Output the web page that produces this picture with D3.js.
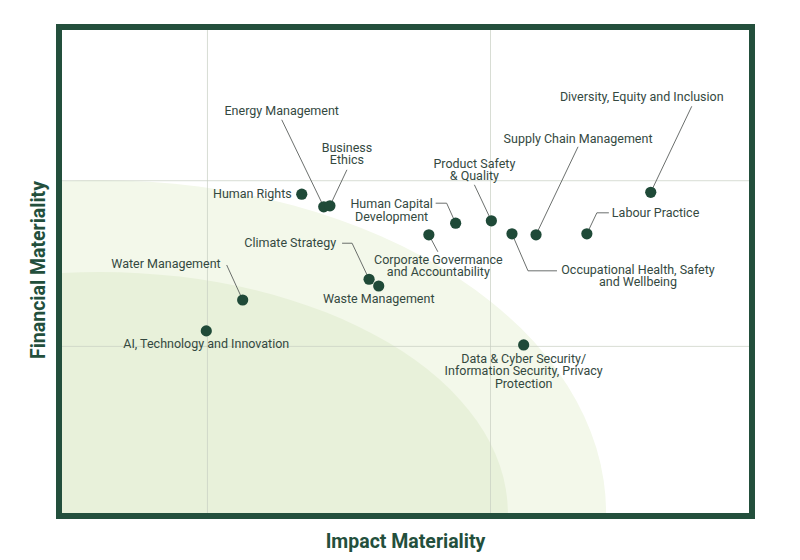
<!DOCTYPE html>
<html>
<head>
<meta charset="utf-8">
<script src="https://cdn.jsdelivr.net/npm/d3@7"></script>
<style>
  html, body { margin: 0; padding: 0; background: #fff; }
  svg { display: block; font-family: Roboto, "Noto Sans", sans-serif; }
</style>
</head>
<body>
<svg id="chart" width="800" height="560"></svg>
<script>
// ---- data ----
const topics = [
  "Human Rights", "Energy Management", "Business Ethics", "Human Capital Development",
  "Product Safety & Quality", "Corporate Govermance and Accountability",
  "Occupational Health, Safety and Wellbeing", "Supply Chain Management", "Labour Practice",
  "Diversity, Equity and Inclusion", "Climate Strategy", "Waste Management",
  "Water Management", "AI, Technology and Innovation",
  "Data & Cyber Security/ Information Security, Privacy Protection"
];
const impactValues    = [3.49, 3.81, 3.90, 5.73, 6.25, 5.34, 6.55, 6.90, 7.64, 8.57, 4.47, 4.61, 2.63, 2.10, 6.72];
const financialValues = [6.60, 6.34, 6.36, 6.00, 6.05, 5.76, 5.78, 5.76, 5.78, 6.64, 4.84, 4.70, 4.41, 3.77, 3.48];
const labelLines = [
  ["Human Rights"], ["Energy Management"], ["Business", "Ethics"], ["Human Capital", "Development"],
  ["Product Safety", "& Quality"], ["Corporate Govermance", "and Accountability"],
  ["Occupational Health, Safety", "and Wellbeing"], ["Supply Chain Management"], ["Labour Practice"],
  ["Diversity, Equity and Inclusion"], ["Climate Strategy"], ["Waste Management"],
  ["Water Management"], ["AI, Technology and Innovation"],
  ["Data & Cyber Security/", "Information Security, Privacy", "Protection"]
];
const xGridValues = [2.11, 6.23];
const yGridValues = [3.46, 6.89];
const xTitle = "Impact Materiality";
const yTitle = "Financial Materiality";

// ---- layout (pixel offsets of labels / leader lines relative to each dot) ----
const labelLayout = [
  { anchor: "end",    dx: -10,  dy: 4,    leader: [] },
  { anchor: "middle", dx: -42,  dy: -92,  leader: [[-42, -87]] },
  { anchor: "middle", dx: 17,   dy: -54,  leader: [[17, -36]] },
  { anchor: "middle", dx: -64,  dy: -15,  leader: [[-20, -20], [-9, -20]] },
  { anchor: "middle", dx: -17,  dy: -53,  leader: [[-17, -36]] },
  { anchor: "middle", dx: 9.5,  dy: 29,   leader: [[9, 17]] },
  { anchor: "middle", dx: 126,  dy: 40,   leader: [[45, 37], [16, 37]] },
  { anchor: "middle", dx: 42,   dy: -92,  leader: [[42, -88]] },
  { anchor: "start",  dx: 25,   dy: -17,  leader: [[22, -21], [10, -21]] },
  { anchor: "middle", dx: -9,   dy: -91.5,leader: [[41, -86]] },
  { anchor: "end",    dx: -33,  dy: -32,  leader: [[-27, -36], [-17, -36]] },
  { anchor: "middle", dx: 0,    dy: 17,   leader: [] },
  { anchor: "end",    dx: -22,  dy: -32,  leader: [[-16, -35]] },
  { anchor: "middle", dx: 0,    dy: 17,   leader: [] },
  { anchor: "middle", dx: 0,    dy: 18,   leader: [] }
];

const svg = d3.select("#chart");
const plot = { left: 62, right: 749, top: 30, bottom: 513 };
const x = d3.scaleLinear().domain([0, 10]).range([plot.left, plot.right]);
const y = d3.scaleLinear().domain([0, 10]).range([plot.bottom, plot.top]);

svg.append("defs").append("clipPath").attr("id", "plotClip")
  .append("rect").attr("x", plot.left).attr("y", plot.top)
  .attr("width", plot.right - plot.left).attr("height", plot.bottom - plot.top);

const bg = svg.append("g").attr("clip-path", "url(#plotClip)");
bg.append("rect").attr("x", plot.left).attr("y", plot.top)
  .attr("width", plot.right - plot.left).attr("height", plot.bottom - plot.top).attr("fill", "#fff");

// zones (ellipses centred near the bottom-left corner)
const zoneCx = 0.55;
bg.append("ellipse")
  .attr("cx", x(zoneCx)).attr("cy", y(0))
  .attr("rx", x(zoneCx + 7.37) - x(zoneCx)).attr("ry", y(0) - y(6.89))
  .attr("fill", "#f3f8ea");
bg.append("ellipse")
  .attr("cx", x(zoneCx)).attr("cy", y(0))
  .attr("rx", x(zoneCx + 5.94) - x(zoneCx)).attr("ry", y(0) - y(4.99))
  .attr("fill", "#e8f1da");

// grid via axes
const gx = bg.append("g").attr("transform", `translate(0,${plot.bottom})`)
  .call(d3.axisBottom(x).tickValues(xGridValues).tickSize(-(plot.bottom - plot.top)).tickFormat(""));
const gy = bg.append("g").attr("transform", `translate(${plot.left},0)`)
  .call(d3.axisLeft(y).tickValues(yGridValues).tickSize(-(plot.right - plot.left)).tickFormat(""));
[gx, gy].forEach(g => {
  g.select(".domain").remove();
  g.selectAll(".tick line").attr("stroke", "#c8cfc2").attr("stroke-opacity", 0.7).attr("stroke-width", 1);
});

// frame
svg.append("rect").attr("x", plot.left - 3).attr("y", plot.top - 3)
  .attr("width", plot.right - plot.left + 6).attr("height", plot.bottom - plot.top + 6)
  .attr("fill", "none").attr("stroke", "#234f3c").attr("stroke-width", 6);

// data
const data = topics.map((t, i) => ({
  name: t, ix: impactValues[i], fy: financialValues[i], lines: labelLines[i], lay: labelLayout[i]
}));

// leaders
const leaderG = svg.append("g");
data.forEach(d => {
  if (!d.lay.leader.length) return;
  const px = x(d.ix), py = y(d.fy);
  const pts = d.lay.leader.map(p => [px + p[0], py + p[1]]).concat([[px, py]]);
  leaderG.append("path")
    .attr("d", d3.line()(pts))
    .attr("fill", "none").attr("stroke", "#5a5f5c").attr("stroke-width", 0.9);
});

// dots
svg.append("g").selectAll("circle").data(data).join("circle")
  .attr("cx", d => x(d.ix)).attr("cy", d => y(d.fy)).attr("r", 5.6)
  .attr("fill", "#1f4a38");

// labels
const lab = svg.append("g").attr("font-size", 12.5).attr("fill", "#34493f");
data.forEach(d => {
  const t = lab.append("text")
    .attr("x", x(d.ix) + d.lay.dx).attr("y", y(d.fy) + d.lay.dy)
    .attr("text-anchor", d.lay.anchor);
  d.lines.forEach((ln, j) => {
    t.append("tspan").attr("x", x(d.ix) + d.lay.dx).attr("dy", j === 0 ? 0 : 12.5).text(ln);
  });
});

// axis titles
svg.append("text").attr("x", 405.5).attr("y", 548).attr("text-anchor", "middle")
  .attr("font-size", 19.5).attr("font-weight", "bold").attr("fill", "#234f3c").text(xTitle);
svg.append("text").attr("transform", "translate(45,270) rotate(-90)").attr("text-anchor", "middle")
  .attr("font-size", 19.5).attr("font-weight", "bold").attr("fill", "#234f3c").text(yTitle);
</script>
</body>
</html>
